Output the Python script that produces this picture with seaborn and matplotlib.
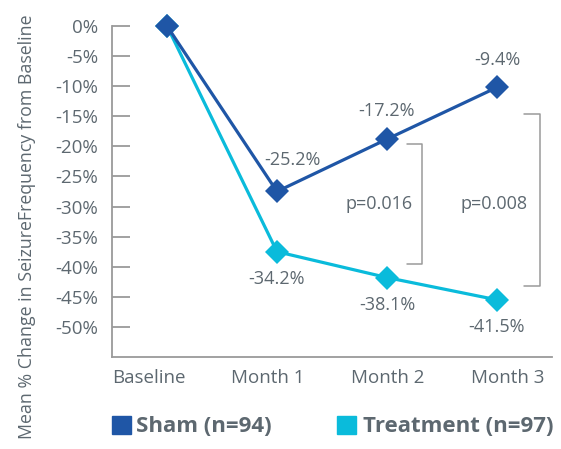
import matplotlib
matplotlib.use("Agg")
import matplotlib.pyplot as plt
import matplotlib.transforms as mtransforms
from matplotlib.patches import Rectangle
import seaborn as sns
import pandas as pd

# ---- data ----
months = ["Baseline", "Month 1", "Month 2", "Month 3"]
sham_values = [0.0, -27.5, -18.8, -10.2]
treatment_values = [0.0, -37.5, -41.8, -45.5]
sham_labels = [None, "-25.2%", "-17.2%", "-9.4%"]
treatment_labels = [None, "-34.2%", "-38.1%", "-41.5%"]
series_names = ["Sham (n=94)", "Treatment (n=97)"]
y_ticks = [0, -5, -10, -15, -20, -25, -30, -35, -40, -45, -50]
p_values = ["p=0.016", "p=0.008"]

SHAM = "#1f56a6"
TREAT = "#0abbdb"
GRAY_TXT = "#5d6870"
GRAY_LN = "#9a9a9a"

sns.set_theme(style="white")
plt.rcParams["font.family"] = ["Open Sans", "DejaVu Sans"]

df = pd.DataFrame({
    "month": months * 2,
    "value": sham_values + treatment_values,
    "group": [series_names[0]] * 4 + [series_names[1]] * 4,
})

fig = plt.figure(figsize=(5.61, 4.49), dpi=100)
ax = fig.add_axes([0.1996, 0.2049, 0.7843, 0.7372])

sns.lineplot(data=df, x="month", y="value", hue="group", hue_order=series_names[::-1],
             palette={series_names[0]: SHAM, series_names[1]: TREAT},
             marker="D", markersize=12, markeredgewidth=0, linewidth=2.3,
             legend=False, ax=ax, clip_on=False, sort=False)

ax.set_xlim(-0.5, 3.5)
ax.set_ylim(-55, 0)
ax.set_yticks(y_ticks)
ax.set_yticklabels([f"{t}%" for t in y_ticks], fontsize=13.5, color=GRAY_TXT)
ax.tick_params(axis="y", direction="in", length=13, width=1.3, color=GRAY_LN, pad=10, left=True)
ax.set_xticks(range(len(months)))
ax.set_xticklabels(months, fontsize=13.5, color=GRAY_TXT)
ax.tick_params(axis="x", length=0, pad=9)
offsets_px = [-18, -9, 1, 11]
for lab, dx in zip(ax.get_xticklabels(), offsets_px):
    lab.set_transform(lab.get_transform() + mtransforms.ScaledTranslation(dx / 100, 0, fig.dpi_scale_trans))
ax.set_xlabel("")
ax.set_ylabel("")
for s in ["top", "right"]:
    ax.spines[s].set_visible(False)
for s in ["left", "bottom"]:
    ax.spines[s].set_color(GRAY_LN)
    ax.spines[s].set_linewidth(1.3)

# data labels
for i in range(1, 4):
    dx = 11 if i == 1 else 0
    ax.annotate(sham_labels[i], (i, sham_values[i]), xytext=(dx, 20 if i > 1 else 23),
                textcoords="offset points", ha="center", va="center", fontsize=13, color=GRAY_TXT)
    ax.annotate(treatment_labels[i], (i, treatment_values[i]), xytext=(0, -19.5),
                textcoords="offset points", ha="center", va="center", fontsize=13, color=GRAY_TXT)

# significance brackets
def bracket(x, xl, y1, y2):
    ax.plot([xl, x, x, xl], [y1, y1, y2, y2], color=GRAY_LN, lw=1.1, clip_on=False)

bracket(2.318, 2.18, -19.6, -39.5)
bracket(3.39, 3.25, -14.6, -43.2)
ax.text(1.93, -29.6, p_values[0], ha="center", va="center", fontsize=13, color=GRAY_TXT)
ax.text(2.97, -29.6, p_values[1], ha="center", va="center", fontsize=13, color=GRAY_TXT)

# y label
fig.text(27 / 561, 1 - 227 / 449, "Mean % Change in SeizureFrequency from Baseline",
         rotation=90, ha="center", va="center", fontsize=12.8, color=GRAY_TXT)

# legend
fig.patches.append(Rectangle((112 / 561, 1 - 434 / 449), 19 / 561, 18 / 449,
                             transform=fig.transFigure, color=SHAM, figure=fig))
fig.text(136 / 561, 1 - 426 / 449, series_names[0], ha="left", va="center",
         fontsize=16, fontweight="bold", color=GRAY_TXT)
fig.patches.append(Rectangle((337 / 561, 1 - 434 / 449), 19 / 561, 18 / 449,
                             transform=fig.transFigure, color=TREAT, figure=fig))
fig.text(363 / 561, 1 - 426 / 449, series_names[1], ha="left", va="center",
         fontsize=16, fontweight="bold", color=GRAY_TXT)

fig.savefig("out.png", dpi=100)
